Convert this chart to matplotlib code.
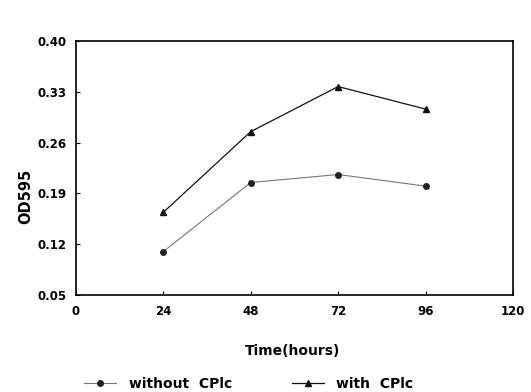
import matplotlib.pyplot as plt

hours = [24, 48, 72, 96]
without_cplc = [0.110, 0.205, 0.216, 0.200]
with_cplc = [0.164, 0.275, 0.337, 0.306]
x_ticks = [0, 24, 48, 72, 96, 120]
y_ticks = [0.05, 0.12, 0.19, 0.26, 0.33, 0.40]

plt.rcParams['font.family'] = ['DejaVu Sans']
plt.rcParams['font.weight'] = 'bold'

fig = plt.figure(figsize=(5.31, 3.92), dpi=100)
ax = fig.add_axes([0.143, 0.247, 0.823, 0.649])

ax.plot(hours, without_cplc, color='#777777', linewidth=0.8, marker='o',
        markersize=4, markerfacecolor='#222222', markeredgecolor='#222222',
        label='without  CPlc')
ax.plot(hours, with_cplc, color='#111111', linewidth=0.9, marker='^',
        markersize=4.5, label='with  CPlc')

ax.set_xlim(0, 120)
ax.set_ylim(0.05, 0.40)
ax.set_xticks(x_ticks)
ax.set_yticks(y_ticks)
ax.set_xticklabels([str(t) for t in x_ticks])
ax.set_yticklabels(['%.2f' % t for t in y_ticks])
ax.tick_params(direction='in', length=3, width=0.8, labelsize=8.5, pad=7)
for s in ax.spines.values():
    s.set_linewidth(1.2)

ax.set_xlabel('Time(hours)', fontsize=10, fontweight='bold')
ax.xaxis.set_label_coords(0.495, -0.19)
ax.set_ylabel('OD595', fontsize=10.5, fontweight='bold')
ax.yaxis.set_label_coords(-0.098, 0.39)

fig.legend(loc='center left', bbox_to_anchor=(0.135, 0.02), ncol=2,
           frameon=False, fontsize=10, handlelength=2.3, columnspacing=4.3,
           handletextpad=0.9)

fig.savefig('out.png', dpi=100)
